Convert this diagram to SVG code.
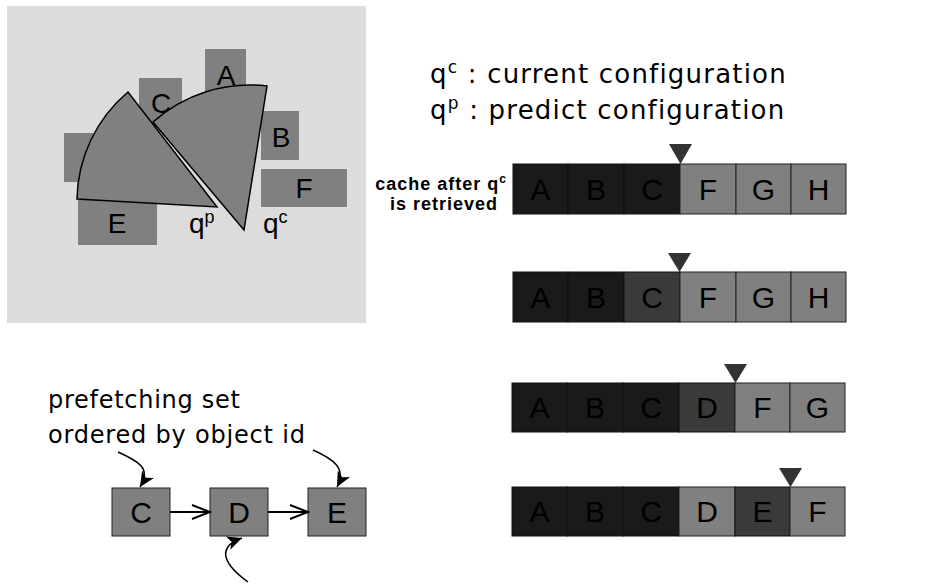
<svg xmlns="http://www.w3.org/2000/svg" width="938" height="585" viewBox="0 0 938 585">
<style>
.bg{fill:#dcdcdc}
.obj{fill:#808080}
.sec{fill:#808080;stroke:#000;stroke-width:1.5;stroke-linejoin:miter}
.let{font-family:"Liberation Sans",Arial,sans-serif;font-size:30px;fill:#000;text-anchor:middle}
.plet{font-family:"Liberation Sans",Arial,sans-serif;font-size:28px;fill:#000}
.cfg{font-family:"DejaVu Sans",sans-serif;font-size:26px;fill:#000;letter-spacing:1.2px}
.lbl{font-family:"DejaVu Sans",sans-serif;font-size:24px;fill:#000}
.bold{font-family:"Liberation Sans",Arial,sans-serif;font-size:18px;font-weight:bold;fill:#000;letter-spacing:1px}
.c1{fill:#1a1a1a;stroke:#111;stroke-width:1}
.c2{fill:#3a3a3a;stroke:#111;stroke-width:1}
.c3{fill:#808080;stroke:#222;stroke-width:1}
.tri{fill:#333}
.node{fill:#808080;stroke:#222;stroke-width:1}
.edge{fill:none;stroke:#000;stroke-width:2}
.curve{fill:none;stroke:#000;stroke-width:1.5}
</style>
<defs>
<marker id="open" markerUnits="userSpaceOnUse" markerWidth="22" markerHeight="18" viewBox="0 0 22 18" refX="20" refY="9" orient="auto">
<path d="M2,2 L20,9 L2,16" fill="none" stroke="#000" stroke-width="2"/>
</marker>
<marker id="barb" markerUnits="userSpaceOnUse" markerWidth="16" markerHeight="14" viewBox="0 0 16 14" refX="15" refY="7" orient="auto">
<path d="M0,0 L15,7 L0,14 L4,7 Z" fill="#000"/>
</marker>
</defs>
<rect width="938" height="585" fill="#fff"/>

<g id="scene">
<rect class="bg" x="7" y="6" width="359" height="317"/>
<rect class="obj" x="205" y="49" width="41" height="50"/>
<rect class="obj" x="139" y="78" width="43" height="50"/>
<rect class="obj" x="261" y="111" width="38" height="49"/>
<rect class="obj" x="261" y="169" width="86" height="38"/>
<rect class="obj" x="64" y="133" width="40" height="49"/>
<rect class="obj" x="78" y="200" width="79" height="45"/>
<path id="sector-qc" class="sec" d="M244,230 L153,122 A145,145 0 0 1 267,86 Z"/>
<path id="sector-qp" class="sec" d="M217,207 L128,92 A143,143 0 0 0 77,199 Z"/>
<text class="plet" x="226" y="85" text-anchor="middle">A</text>
<text class="plet" x="161" y="113" text-anchor="middle">C</text>
<text class="plet" x="281" y="147" text-anchor="middle">B</text>
<text class="plet" x="304" y="198" text-anchor="middle">F</text>
<text class="plet" x="117" y="233" text-anchor="middle">E</text>
<text class="plet" x="189" y="233">q<tspan font-size="18" dy="-10">p</tspan></text>
<text class="plet" x="263" y="233">q<tspan font-size="18" dy="-10">c</tspan></text>
</g>

<g id="legend">
<text class="cfg" x="430" y="83">q<tspan font-size="17" dy="-10">c</tspan><tspan dy="10"> : current configuration</tspan></text>
<text class="cfg" x="430" y="119">q<tspan font-size="17" dy="-10">p</tspan><tspan dy="10"> : predict configuration</tspan></text>
<text class="bold" x="507" y="190" text-anchor="end">cache after q<tspan font-size="12" dy="-7">c</tspan></text>
<text class="bold" x="498" y="210" text-anchor="end">is retrieved</text>
</g>

<g id="row1">
<rect class="c1" x="513" y="164" width="55" height="50"/>
<rect class="c1" x="568" y="164" width="56" height="50"/>
<rect class="c1" x="624" y="164" width="56" height="50"/>
<rect class="c3" x="680" y="164" width="56" height="50"/>
<rect class="c3" x="736" y="164" width="55" height="50"/>
<rect class="c3" x="791" y="164" width="55" height="50"/>
<text class="let" x="540.5" y="200">A</text>
<text class="let" x="596" y="200">B</text>
<text class="let" x="652" y="200">C</text>
<text class="let" x="708" y="200">F</text>
<text class="let" x="763.5" y="200">G</text>
<text class="let" x="818.5" y="200">H</text>
<path class="tri" d="M669,144 L692,144 L680.5,164 Z"/>
</g>

<g id="row2">
<rect class="c1" x="513" y="272" width="55" height="50"/>
<rect class="c1" x="568" y="272" width="56" height="50"/>
<rect class="c2" x="624" y="272" width="56" height="50"/>
<rect class="c3" x="680" y="272" width="56" height="50"/>
<rect class="c3" x="736" y="272" width="55" height="50"/>
<rect class="c3" x="791" y="272" width="55" height="50"/>
<text class="let" x="540.5" y="308">A</text>
<text class="let" x="596" y="308">B</text>
<text class="let" x="652" y="308">C</text>
<text class="let" x="708" y="308">F</text>
<text class="let" x="763.5" y="308">G</text>
<text class="let" x="818.5" y="308">H</text>
<path class="tri" d="M668,253 L691,253 L679.5,272 Z"/>
</g>

<g id="row3">
<rect class="c1" x="512" y="383" width="55" height="49"/>
<rect class="c1" x="567" y="383" width="56" height="49"/>
<rect class="c1" x="623" y="383" width="56" height="49"/>
<rect class="c2" x="679" y="383" width="56" height="49"/>
<rect class="c3" x="735" y="383" width="55" height="49"/>
<rect class="c3" x="790" y="383" width="55" height="49"/>
<text class="let" x="539.5" y="418">A</text>
<text class="let" x="595" y="418">B</text>
<text class="let" x="651" y="418">C</text>
<text class="let" x="707" y="418">D</text>
<text class="let" x="762.5" y="418">F</text>
<text class="let" x="817.5" y="418">G</text>
<path class="tri" d="M724,364 L747,364 L735.5,383 Z"/>
</g>

<g id="row4">
<rect class="c1" x="512" y="487" width="55" height="49"/>
<rect class="c1" x="567" y="487" width="56" height="49"/>
<rect class="c1" x="623" y="487" width="56" height="49"/>
<rect class="c3" x="679" y="487" width="56" height="49"/>
<rect class="c2" x="735" y="487" width="55" height="49"/>
<rect class="c3" x="790" y="487" width="55" height="49"/>
<text class="let" x="539.5" y="522">A</text>
<text class="let" x="595" y="522">B</text>
<text class="let" x="651" y="522">C</text>
<text class="let" x="707" y="522">D</text>
<text class="let" x="762.5" y="522">E</text>
<text class="let" x="817.5" y="522">F</text>
<path class="tri" d="M779,468 L802,468 L790.5,487 Z"/>
</g>

<g id="prefetch-label">
<text class="lbl" x="48" y="408" textLength="192" lengthAdjust="spacing">prefetching set</text>
<text class="lbl" x="48" y="443" textLength="257" lengthAdjust="spacing">ordered by object id</text>
</g>

<g id="node-C">
<rect class="node" x="112" y="488" width="58" height="48"/>
<text class="let" x="141" y="523">C</text>
</g>
<g id="node-D">
<rect class="node" x="210" y="488" width="58" height="48"/>
<text class="let" x="239" y="523">D</text>
</g>
<g id="node-E">
<rect class="node" x="308" y="488" width="58" height="48"/>
<text class="let" x="337" y="523">E</text>
</g>

<g id="connectors">
<line class="edge" x1="170" y1="512" x2="210" y2="512" marker-end="url(#open)"/>
<line class="edge" x1="268" y1="512" x2="308" y2="512" marker-end="url(#open)"/>
<path class="curve" d="M118,452 C138,461 152,468 140,487" marker-end="url(#barb)"/>
<path class="curve" d="M313,450 C333,459 347,468 337,487" marker-end="url(#barb)"/>
<path class="curve" d="M248,582 C226,566 214,548 242,538" marker-end="url(#barb)"/>
</g>
</svg>
